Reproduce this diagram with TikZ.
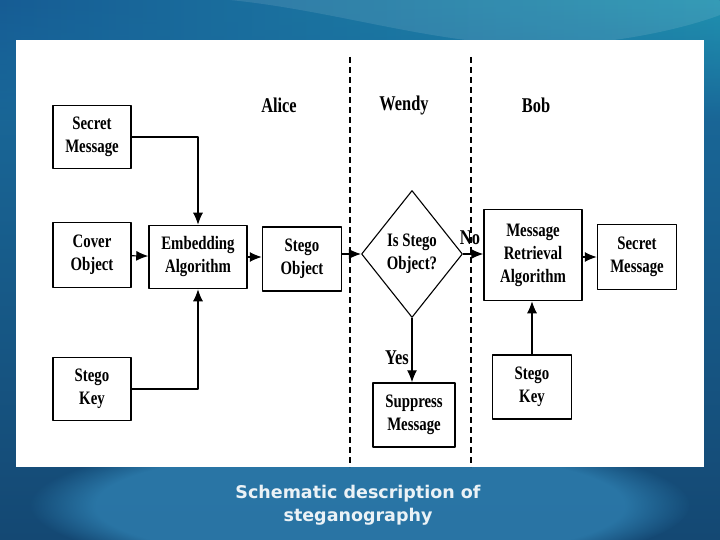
\documentclass[tikz,border=0pt]{standalone}
\usepackage{fontspec}
\setmainfont{Liberation Serif}[FakeStretch=0.78]
\newfontfamily\capfont{DejaVu Sans}
\usetikzlibrary{arrows.meta, shapes.geometric, fadings}

\definecolor{bgleft}{RGB}{22,92,148}
\definecolor{bgright}{RGB}{32,145,175}
\definecolor{bgtop}{RGB}{26,110,160}
\definecolor{bgbot}{RGB}{20,72,115}
\definecolor{bgglow}{RGB}{50,135,185}
\definecolor{capwhite}{RGB}{235,242,246}

\begin{document}
\begin{tikzpicture}[x=1pt, y=-1pt, line join=round,
  box/.style={draw, line width=1.5pt, align=center, inner sep=0pt,
    font=\fontsize{19}{23}\selectfont\bfseries},
  party/.style={font=\fontsize{21}{24}\selectfont\bfseries},
  arr/.style={line width=1.1pt, -{Latex[length=12pt, width=10pt]}}]
\useasboundingbox (0,0) rectangle (720,540);
% slide background
\shade[top color=bgtop, bottom color=bgbot] (0,0) rectangle (720,540);
\shade[left color=bgleft, right color=bgright, path fading=south] (0,0) rectangle (720,120);
\fill[white, opacity=0.10] (230,0) .. controls (330,10) and (420,40) .. (520,45) .. controls (600,48) and (680,30) .. (720,15) -- (720,0) -- cycle;
\fill[bgglow, opacity=0.7, path fading=circle with fuzzy edge 20 percent] (360,505) ellipse (330pt and 70pt);
\fill[white] (16,40) rectangle (704,467);
% swimlane separators
\draw[line width=1.3pt, dash pattern=on 6pt off 4pt] (350,57) -- (350,467);
\draw[line width=1.3pt, dash pattern=on 6pt off 4pt] (471,57) -- (471,467);
\node[party] (alice) at (279,105) {Alice};
\node[party] (wendy) at (404,105) {Wendy};
\node[party] (bob) at (536,105) {Bob};
% Alice
\node[box, minimum width=78pt, minimum height=63pt] (smsg) at (92,137) {Secret\\Message};
\node[box, minimum width=78pt, minimum height=65pt] (cover) at (92,255) {Cover\\Object};
\node[box, minimum width=78pt, minimum height=63pt] (skey) at (92,389) {Stego\\Key};
\node[box, minimum width=98pt, minimum height=63pt] (emb) at (198,257) {Embedding\\Algorithm};
\node[box, minimum width=79pt, minimum height=64pt] (sobj) at (302,259) {Stego\\Object};
% Wendy
\node[box, diamond, line width=1.1pt, minimum width=101pt, minimum height=127pt, inner sep=-10pt] (test) at (412,254) {Is Stego\\Object?};
\node[box, minimum width=82pt, minimum height=64pt] (supp) at (414,415) {Suppress\\Message};
% Bob
\node[box, minimum width=98pt, minimum height=91pt] (mra) at (533,255) {Message\\Retrieval\\Algorithm};
\node[box, minimum width=79pt, minimum height=65pt] (rmsg) at (637,257) {Secret\\Message};
\node[box, minimum width=79pt, minimum height=64pt] (rkey) at (532,387) {Stego\\Key};
% arrows
\draw[arr] (smsg.east) -| (emb.north);
\draw[arr] (skey.east) -| (emb.south);
\draw[arr] (cover) -- (emb);
\draw[arr] (emb) -- (emb -| sobj.west);
\draw[arr] (sobj.east |- test.west) -- (test.west);
\draw[arr] (test.east) -- (test.east -| mra.west);
\draw[arr] (test.south) -- (test.south |- supp.north);
\draw[arr] (mra.east |- rmsg.west) -- (rmsg.west);
\draw[arr] (rkey.north) -- (rkey.north |- mra.south);
\node[party] (no) at (470,238) {No};
\node[party] (yes) at (397,358) {Yes};
% caption
\node[align=center, text=capwhite, font=\capfont\fontsize{17.5}{23.5}\selectfont\bfseries] (cap) at (358,505) {Schematic description of\\steganography};
\end{tikzpicture}
\end{document}
